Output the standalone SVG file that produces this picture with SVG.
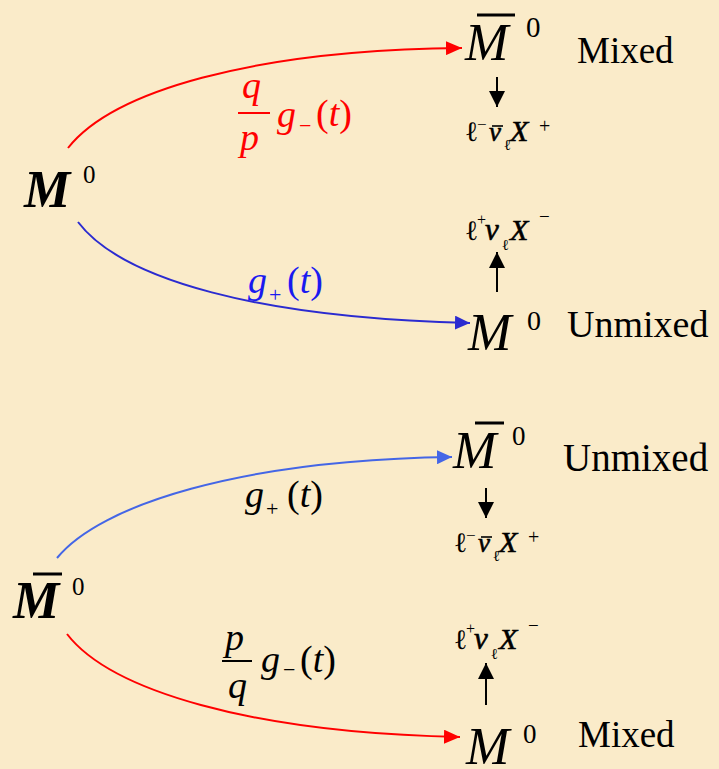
<svg xmlns="http://www.w3.org/2000/svg" width="719" height="769" viewBox="0 0 719 769">
<defs>
<style>
text{font-family:"Liberation Serif","Times New Roman",serif;font-style:normal;font-weight:normal;}
.it{font-style:italic;}
.bi{font-style:italic;font-weight:bold;}
.big{font-size:52px;}
.word{font-size:37px;}
.lab{font-size:38px;}
.sub{font-size:22px;}
.ell{font-size:28px;}
.ellsub{font-size:15px;}
.dk{font-style:italic;stroke:#000;stroke-width:0.6;}
.bar{stroke:#000;stroke-width:3;}
.vbar{stroke:#000;stroke-width:1.6;}
.conn{fill:none;stroke-width:2;}
</style>
<marker id="ar-red" markerUnits="userSpaceOnUse" markerWidth="16" markerHeight="14" refX="16" refY="7" orient="auto"><path d="M0,0 L16,7 L0,14 z" fill="#FF0000"/></marker>
<marker id="ar-blue" markerUnits="userSpaceOnUse" markerWidth="15" markerHeight="14" refX="15" refY="7" orient="auto"><path d="M0,0 L15,7 L0,14 z" fill="#2B2BD0"/></marker>
<marker id="ar-blue2" markerUnits="userSpaceOnUse" markerWidth="15" markerHeight="14" refX="15" refY="7" orient="auto"><path d="M0,0 L15,7 L0,14 z" fill="#4466E6"/></marker>
<marker id="ar-blk" markerUnits="userSpaceOnUse" markerWidth="16" markerHeight="16" refX="16" refY="8" orient="auto"><path d="M0,0 L16,8 L0,16 z" fill="#000"/></marker>
</defs>
<rect width="719" height="769" fill="#FAEBC9"/>

<g id="connectors">
<path class="conn" stroke="#FF0000" d="M68,148 C112,92 250,50 462,48" marker-end="url(#ar-red)"/>
<path class="conn" stroke="#2B2BD0" d="M78,222 C122,280 260,318 470,323" marker-end="url(#ar-blue)"/>
<path class="conn" stroke="#4466E6" d="M57,558 C100,505 240,460 452,457" marker-end="url(#ar-blue2)"/>
<path class="conn" stroke="#FF0000" d="M67,634 C110,690 250,733 460,737" marker-end="url(#ar-red)"/>
<line x1="497" y1="77" x2="497" y2="107" stroke="#000" stroke-width="2" marker-end="url(#ar-blk)"/>
<line x1="497" y1="292" x2="497" y2="252" stroke="#000" stroke-width="2" marker-end="url(#ar-blk)"/>
<line x1="486" y1="488" x2="486" y2="518" stroke="#000" stroke-width="2" marker-end="url(#ar-blk)"/>
<line x1="486" y1="705" x2="486" y2="663" stroke="#000" stroke-width="2" marker-end="url(#ar-blk)"/>
</g>

<g id="label-qp" fill="#FF0000">
<text class="lab it" x="242" y="98">q</text>
<line x1="238" y1="113" x2="270" y2="113" stroke="#FF0000" stroke-width="2"/>
<text class="lab it" x="240" y="150">p</text>
<text class="lab it" x="277" y="127">g</text>
<text class="sub" x="299" y="133">−</text>
<text class="lab" x="316" y="126">(<tspan class="it">t</tspan>)</text>
</g>

<g id="label-gplus-top" fill="#1A1AF0">
<text class="lab it" x="248" y="293">g</text>
<text class="sub" x="269" y="302">+</text>
<text class="lab" x="287" y="293">(<tspan class="it">t</tspan>)</text>
</g>

<g id="label-gplus-bottom" fill="#000">
<text class="lab it" x="245" y="507">g</text>
<text class="sub" x="266" y="516">+</text>
<text class="lab" x="287" y="507">(<tspan class="it">t</tspan>)</text>
</g>

<g id="label-pq" fill="#000">
<text class="lab it" x="225" y="650">p</text>
<line x1="222" y1="661" x2="252" y2="661" stroke="#000" stroke-width="2"/>
<text class="lab it" x="228" y="698">q</text>
<text class="lab it" x="261" y="672">g</text>
<text class="sub" x="283" y="677">−</text>
<text class="lab" x="300" y="672">(<tspan class="it">t</tspan>)</text>
</g>

<g id="node-M0-initial" fill="#000">
<text class="big bi" x="24" y="207">M</text>
<text x="83" y="183" style="font-size:25px">0</text>
</g>

<g id="node-Mbar0-mixed" fill="#000">
<text class="big it" x="465" y="60">M</text>
<line class="bar" x1="477" y1="15" x2="515" y2="15"/>
<text x="526" y="37" style="font-size:29px">0</text>
<text class="word" x="577" y="63">Mixed</text>
</g>

<g id="decay-top-minus" fill="#000">
<text class="ell" x="465" y="141">ℓ</text>
<text x="477" y="130" style="font-size:17px">−</text>
<text class="dk" x="489" y="141" style="font-size:27px">ν</text>
<line class="vbar" x1="492" y1="126" x2="503" y2="126"/>
<text class="ellsub" x="504" y="150">ℓ</text>
<text class="dk" x="510" y="141" style="font-size:30px">X</text>
<text x="539" y="133" style="font-size:20px">+</text>
</g>

<g id="decay-top-plus" fill="#000">
<text class="ell" x="465" y="240">ℓ</text>
<text x="477" y="225" style="font-size:16px">+</text>
<text class="dk" x="485" y="240" style="font-size:31px">ν</text>
<text class="ellsub" x="502" y="250">ℓ</text>
<text class="dk" x="510" y="240" style="font-size:30px">X</text>
<text x="539" y="223" style="font-size:19px">−</text>
</g>

<g id="node-M0-unmixed" fill="#000">
<text class="big it" x="468" y="350">M</text>
<text x="527" y="330" style="font-size:28px">0</text>
<text class="word" x="567" y="337" style="font-size:38px">Unmixed</text>
</g>

<g id="node-Mbar0-initial" fill="#000">
<text class="big bi" x="13" y="618">M</text>
<line class="bar" x1="33" y1="574" x2="62" y2="574"/>
<text x="72" y="595" style="font-size:25px">0</text>
</g>

<g id="node-Mbar0-unmixed" fill="#000">
<text class="big it" x="453" y="468">M</text>
<line class="bar" x1="475" y1="423" x2="504" y2="423"/>
<text x="512" y="445" style="font-size:27px">0</text>
<text class="word" x="563" y="471" style="font-size:39px">Unmixed</text>
</g>

<g id="decay-bottom-minus" fill="#000" transform="translate(-11,411)">
<text class="ell" x="465" y="141">ℓ</text>
<text x="477" y="130" style="font-size:17px">−</text>
<text class="dk" x="489" y="141" style="font-size:27px">ν</text>
<line class="vbar" x1="492" y1="126" x2="503" y2="126"/>
<text class="ellsub" x="504" y="150">ℓ</text>
<text class="dk" x="510" y="141" style="font-size:30px">X</text>
<text x="539" y="133" style="font-size:20px">+</text>
</g>

<g id="decay-bottom-plus" fill="#000" transform="translate(-11,409)">
<text class="ell" x="465" y="240">ℓ</text>
<text x="477" y="225" style="font-size:16px">+</text>
<text class="dk" x="485" y="240" style="font-size:31px">ν</text>
<text class="ellsub" x="502" y="250">ℓ</text>
<text class="dk" x="510" y="240" style="font-size:30px">X</text>
<text x="539" y="223" style="font-size:19px">−</text>
</g>

<g id="node-M0-mixed" fill="#000">
<text class="big it" x="466" y="764">M</text>
<text x="523" y="743" style="font-size:27px">0</text>
<text class="word" x="578" y="747">Mixed</text>
</g>
</svg>
